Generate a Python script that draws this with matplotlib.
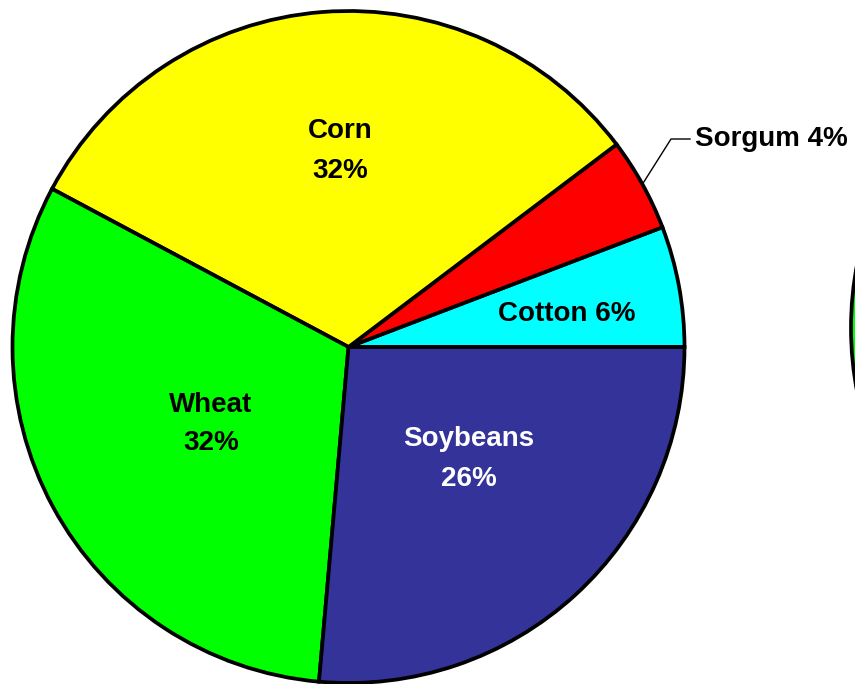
import matplotlib.pyplot as plt
import numpy as np

crops = ['Cotton', 'Sorgum', 'Corn', 'Wheat', 'Soybeans']
shares = [5.8, 4.5, 31.9, 31.4, 26.4]
share_labels = ['6%', '4%', '32%', '32%', '26%']
colors = ['#00FFFF', '#FF0000', '#FFFF00', '#00FF00', '#333399']

W, H = 855, 684
fig = plt.figure(figsize=(W / 100, H / 100), dpi=100)
ax = fig.add_axes([0, 0, 1, 1])

cx, cy, r = 348.5, H - 347, 336

ax.pie(shares, colors=colors, startangle=0, counterclock=True,
       center=(cx, cy), radius=r,
       wedgeprops=dict(edgecolor='black', linewidth=2.7))

# second pie, mostly off the right edge of the picture
ax.pie([1], colors=['#00FF00'], center=(851 + r, H - 328), radius=r,
       wedgeprops=dict(edgecolor='black', linewidth=2.7))

font = dict(family='Liberation Sans', fontweight='bold', fontsize=20,
            ha='center', va='center', linespacing=1.65)

ax.text(340, H - 151, crops[2] + '\n' + share_labels[2], color='black', **font)
ax.text(211, H - 424, crops[3] + '\n' + share_labels[3], color='black', **font)
ax.text(469, H - 459, crops[4] + '\n' + share_labels[4], color='white', **font)
ax.text(567, H - 314, crops[0] + ' ' + share_labels[0], color='black', **font)

# leader line for the small slice
mid = np.deg2rad(shares[0] * 3.6 + shares[1] * 1.8)
x0, y0 = cx + r * np.cos(mid), cy + r * np.sin(mid)
ax.plot([x0, 671, 690], [y0, H - 139, H - 139], color='black', lw=1)
ax.text(695, H - 139, crops[1] + ' ' + share_labels[1], color='black',
        **{**font, 'ha': 'left'})

ax.set_xlim(0, W)
ax.set_ylim(0, H)
ax.set_aspect('equal')
ax.axis('off')

fig.savefig('out.png', dpi=100)
